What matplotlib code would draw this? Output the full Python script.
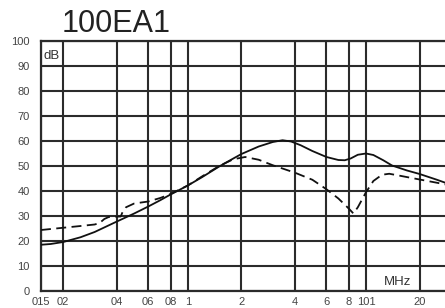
import matplotlib
matplotlib.use("Agg")
import matplotlib.pyplot as plt

plt.rcParams['font.family'] = ['Liberation Sans', 'DejaVu Sans']

title = "100EA1"
x_ticks = [0.15, 0.2, 0.4, 0.6, 0.8, 1, 2, 4, 6, 8, 10, 20, 30]
x_tick_labels = ["015", "02", "04", "06", "08", "1", "2", "4", "6", "8", "101", "20", "30"]
y_ticks = [0, 10, 20, 30, 40, 50, 60, 70, 80, 90, 100]

solid_freq = [0.15, 0.17, 0.2, 0.25, 0.3, 0.4, 0.5, 0.6, 0.7, 0.8, 1.0, 1.2, 1.5, 1.8,
              2.0, 2.5, 3.0, 3.4, 3.8, 4.3, 5.0, 6.0, 7.0, 7.6, 8.2, 9.0, 10.0, 11.0,
              12.5, 14, 17, 20, 25, 30]
solid_db = [18.5, 18.8, 19.6, 21.5, 23.6, 27.8, 31.0, 33.8, 36.3, 38.6, 42.2, 45.5, 49.8, 53.0,
            54.8, 57.8, 59.6, 60.3, 59.8, 58.3, 56.0, 53.6, 52.4, 52.3, 53.0, 54.5, 55.0, 54.4,
            52.3, 50.2, 48.2, 46.8, 44.5, 42.5]

dashed_freq = [0.15, 0.2, 0.25, 0.3, 0.32, 0.34, 0.36, 0.42, 0.43, 0.45, 0.5, 0.6, 0.7, 0.8,
               1.0, 1.2, 1.5, 1.8, 2.1, 2.5, 3.0, 4.0, 5.0, 6.0, 7.0, 8.0, 8.5, 9.0, 10.0,
               11, 12.3, 13.5, 15, 20, 25, 30]
dashed_db = [24.4, 25.3, 26.0, 26.6, 27.2, 28.8, 29.6, 29.8, 31.5, 33.5, 35.0, 35.8, 37.2, 38.8,
             42.2, 45.8, 50.0, 52.7, 53.6, 52.5, 50.3, 47.3, 44.5, 40.7, 37.0, 33.0, 31.0, 33.5, 39.5,
             44.0, 46.5, 46.9, 46.3, 44.6, 43.3, 42.2]

W, H = 445, 308
fig = plt.figure(figsize=(W / 100, H / 100), dpi=100)
left, top, bottom, right = 41, 41, 291, 451
ax = fig.add_axes([left / W, (H - bottom) / H, (right - left) / W, (bottom - top) / H])

ax.set_xscale('log')
ax.set_xlim(0.15, 30)
ax.set_ylim(0, 100)

gc = '#2b2b2b'
ax.set_xticks(x_ticks)
ax.set_xticklabels(x_tick_labels)
ax.set_yticks(y_ticks)
ax.xaxis.set_minor_locator(matplotlib.ticker.NullLocator())
ax.tick_params(length=0, labelsize=8, labelcolor='#444444')
ax.tick_params(axis='x', pad=4)
ax.tick_params(axis='y', pad=8)
ax.grid(True, color=gc, linewidth=1.5)
for s in ax.spines.values():
    s.set_color(gc)
    s.set_linewidth(1.6)
ax.spines['right'].set_visible(False)

ax.plot(solid_freq, solid_db, color='#111111', linewidth=1.3, zorder=3)
ax.plot(dashed_freq, dashed_db, color='#111111', linewidth=1.3, dashes=(5.5, 3), zorder=3)

ax.text(0.154, 94, "dB", fontsize=9.5, color='#333333', va='center', ha='left')
ax.text(17.9, 3.6, "MHz", fontsize=9.5, color='#333333', va='center', ha='right')

fig.text(62 / W, 1 - 32 / H, title, fontsize=22, color='#222222', ha='left', va='baseline')

fig.savefig("out.png", dpi=100)
